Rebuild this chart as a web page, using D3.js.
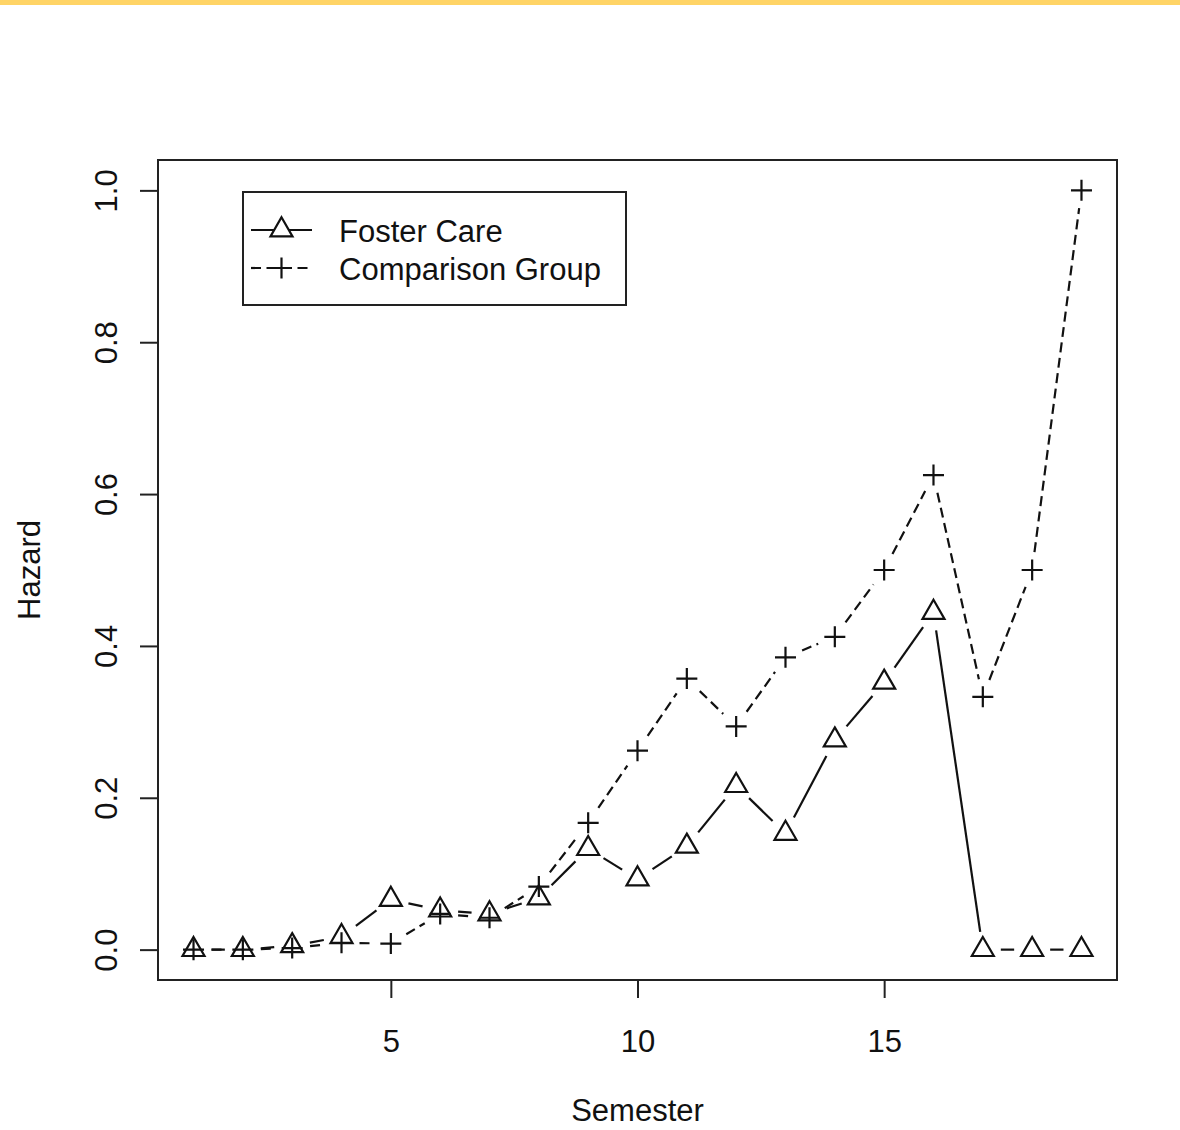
<!DOCTYPE html>
<meta charset="utf-8">
<title>Hazard by semester</title>
<style>
body { margin: 0; background: #fff; }
svg { display: block; }
text { font-family: "Liberation Sans", Arial, sans-serif; fill: #111; }
</style>
<svg id="chart"></svg>
<script src="https://cdn.jsdelivr.net/npm/d3@7"></script>
<script>
// values
var semesters = [1, 2, 3, 4, 5, 6, 7, 8, 9, 10, 11, 12, 13, 14, 15, 16, 17, 18, 19];
var fosterCare = [0, 0, 0.005, 0.017, 0.066, 0.052, 0.047, 0.068, 0.133, 0.093, 0.136, 0.216, 0.153, 0.276, 0.352, 0.444, 0, 0, 0];
var comparisonGroup = [0, 0, 0.002, 0.009, 0.008, 0.047, 0.042, 0.083, 0.167, 0.262, 0.357, 0.294, 0.385, 0.412, 0.5, 0.625, 0.333, 0.5, 1];
var xTicks = [5, 10, 15];
var yTicks = [0, 0.2, 0.4, 0.6, 0.8, 1.0];
var seriesNames = ["Foster Care", "Comparison Group"];

var width = 1180, height = 1130;
var box = {left: 158, right: 1117, top: 160, bottom: 980};

var svg = d3.select("#chart").attr("width", width).attr("height", height);

svg.append("rect")
	.attr("x", 0).attr("y", 0)
	.attr("width", width).attr("height", 5)
	.attr("fill", "#ffd466");

// R style 4% padding on both axes
var x = d3.scaleLinear().domain([1 - 18 * 0.04, 19 + 18 * 0.04]).range([box.left, box.right]);
var y = d3.scaleLinear().domain([-0.04, 1.04]).range([box.bottom, box.top]);

var xAxis = svg.append("g")
	.attr("transform", "translate(0," + box.bottom + ")")
	.call(d3.axisBottom(x).tickValues(xTicks).tickSize(18).tickSizeOuter(0).tickFormat(d3.format("d")));
xAxis.select(".domain").remove();
xAxis.selectAll("line").attr("stroke", "#222").attr("stroke-width", 2);
xAxis.selectAll("text")
	.attr("y", 72).attr("dy", null)
	.attr("font-size", 31)
	.attr("fill", "#111");

var yAxis = svg.append("g")
	.attr("transform", "translate(" + box.left + ",0)")
	.call(d3.axisLeft(y).tickValues(yTicks).tickSize(18).tickSizeOuter(0).tickFormat(d3.format(".1f")));
yAxis.select(".domain").remove();
yAxis.selectAll("line").attr("stroke", "#222").attr("stroke-width", 2);
yAxis.selectAll("text")
	.attr("x", null).attr("dy", null)
	.attr("transform", "translate(-41,0) rotate(-90)")
	.attr("text-anchor", "middle")
	.attr("font-size", 31)
	.attr("fill", "#111");

svg.append("rect")
	.attr("x", box.left).attr("y", box.top)
	.attr("width", box.right - box.left).attr("height", box.bottom - box.top)
	.attr("fill", "none")
	.attr("stroke", "#222")
	.attr("stroke-width", 2);

svg.append("text")
	.attr("x", (box.left + box.right) / 2)
	.attr("y", 1121)
	.attr("text-anchor", "middle")
	.attr("font-size", 31)
	.text("Semester");

svg.append("text")
	.attr("transform", "translate(40," + (box.top + box.bottom) / 2 + ") rotate(-90)")
	.attr("text-anchor", "middle")
	.attr("font-size", 31)
	.text("Hazard");

// pch 2 triangle (centred on circumcentre) and pch 3 plus
var triR = 12.7;
function trianglePath(cx, cy) {
	var xc = triR * Math.sqrt(3) / 2;
	return "M" + cx + "," + (cy - triR) +
		"L" + (cx + xc) + "," + (cy + triR / 2) +
		"L" + (cx - xc) + "," + (cy + triR / 2) + "Z";
}
function plusPath(cx, cy) {
	var h = 10.5;
	return "M" + (cx - h) + "," + cy + "H" + (cx + h) +
		"M" + cx + "," + (cy - h) + "V" + (cy + h);
}

// type = "b": segments stop short of each point
var gap = 18;
function drawSeries(values, dash, marker) {
	var pts = semesters.map(function(s, i) { return [x(s), y(values[i])]; });
	var g = svg.append("g");
	for (var i = 0; i < pts.length - 1; i++) {
		var a = pts[i], b = pts[i + 1];
		var dx = b[0] - a[0], dy = b[1] - a[1];
		var len = Math.sqrt(dx * dx + dy * dy);
		if (len <= 2 * gap) continue;
		var ux = dx / len, uy = dy / len;
		g.append("line")
			.attr("x1", a[0] + ux * gap).attr("y1", a[1] + uy * gap)
			.attr("x2", b[0] - ux * gap).attr("y2", b[1] - uy * gap)
			.attr("stroke", "#111")
			.attr("stroke-width", 2.2)
			.attr("stroke-dasharray", dash);
	}
	g.selectAll("path")
		.data(pts)
		.enter().append("path")
		.attr("d", function(p) { return marker(p[0], p[1]); })
		.attr("fill", "none")
		.attr("stroke", "#111")
		.attr("stroke-width", 2.2);
}
drawSeries(fosterCare, null, trianglePath);
drawSeries(comparisonGroup, "10,5.5", plusPath);

// legend
var legend = svg.append("g");
legend.append("rect")
	.attr("x", 243).attr("y", 192)
	.attr("width", 383).attr("height", 113)
	.attr("fill", "#fff")
	.attr("stroke", "#222")
	.attr("stroke-width", 2);
var rows = [
	{name: seriesNames[0], dash: null, marker: trianglePath, y: 230},
	{name: seriesNames[1], dash: "10,5.5", marker: plusPath, y: 268}
];
rows.forEach(function(r) {
	legend.append("line")
		.attr("x1", 251).attr("x2", 312)
		.attr("y1", r.y).attr("y2", r.y)
		.attr("stroke", "#111")
		.attr("stroke-width", 2.2)
		.attr("stroke-dasharray", r.dash);
	legend.append("path")
		.attr("d", r.marker(281.5, r.y))
		.attr("fill", r.marker === trianglePath ? "#fff" : "none")
		.attr("stroke", "#111")
		.attr("stroke-width", 2.2);
	legend.append("text")
		.attr("x", 339)
		.attr("y", r.y + 12)
		.attr("font-size", 31)
		.text(r.name);
});
</script>
